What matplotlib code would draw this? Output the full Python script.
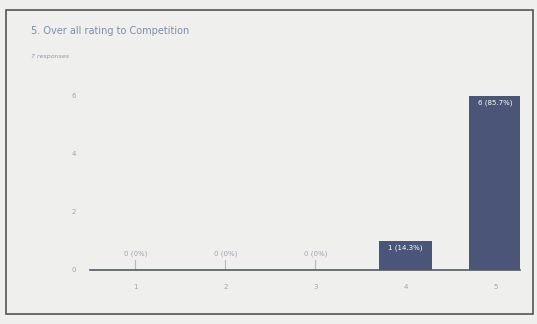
import matplotlib
matplotlib.use("Agg")
import matplotlib.pyplot as plt
from matplotlib.patches import Rectangle

categories = [1, 2, 3, 4, 5]
counts = [0, 0, 0, 1, 6]
labels = ["0 (0%)", "0 (0%)", "0 (0%)", "1 (14.3%)", "6 (85.7%)"]
yticks = [0, 2, 4, 6]

fig = plt.figure(figsize=(5.37, 3.24), dpi=100)
fig.patch.set_facecolor("#efefed")
fig.patches.append(Rectangle((0.012, 0.03), 0.98, 0.94, transform=fig.transFigure,
                             fill=False, edgecolor="#555555", linewidth=1.2))

ax = fig.add_axes([0.168, 0.167, 0.80, 0.555])
ax.set_facecolor("#efefed")
bar_color = "#4b5577"
ax.bar(categories, counts, width=0.58, color=bar_color, zorder=3)
ax.set_xlim(0.5, 5.27)
ax.set_ylim(0, 6.2)
ax.set_yticks(yticks)
ax.set_xticks(categories)
ax.tick_params(axis="both", length=0, labelsize=5, labelcolor="#a0a4ae", pad=10)
for s in ["top", "right", "left"]:
    ax.spines[s].set_visible(False)
ax.spines["bottom"].set_color("#555a66")
ax.spines["bottom"].set_linewidth(1.2)

for x, c, lab in zip(categories, counts, labels):
    if c == 0:
        ax.plot([x, x], [0, 0.35], color="#b5b8c0", lw=0.8, zorder=2)
        ax.text(x, 0.45, lab, ha="center", va="bottom", fontsize=5, color="#a0a4ae")
    else:
        ax.text(x, c - 0.12, lab, ha="center", va="top", fontsize=5, color="white")

fig.text(0.058, 0.905, "5. Over all rating to Competition", fontsize=7,
         color="#7f8cab", ha="left", va="center")
fig.text(0.058, 0.825, "7 responses", fontsize=4.5, color="#8a96b0",
         ha="left", va="center", style="italic")

fig.savefig("out.png", dpi=100, facecolor=fig.get_facecolor())
